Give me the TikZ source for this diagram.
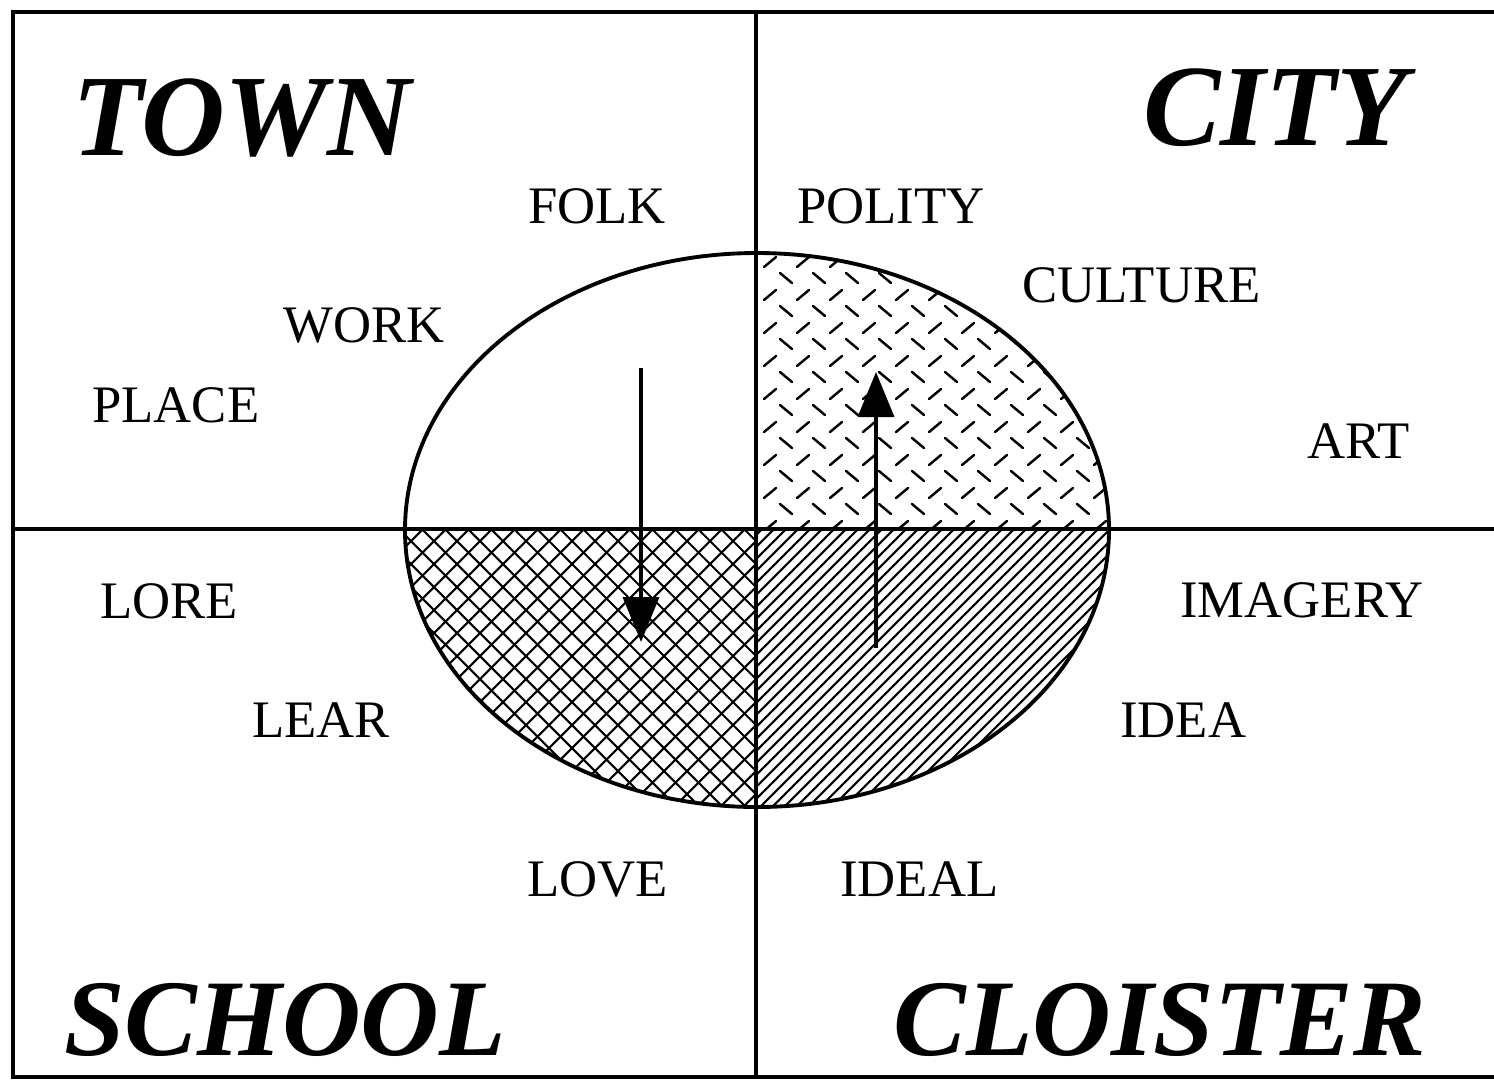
\documentclass[tikz,border=0pt]{standalone}
\usepackage{fontspec}
\setmainfont{Liberation Serif}
\usetikzlibrary{arrows.meta}
\tikzset{
  frameline/.style={line width=2.2pt, line cap=rect},
  hatchline/.style={line width=1.2pt},
  marks/.style={line width=1.4pt, line cap=round},
  bigtitle/.style={anchor=base west, inner sep=0pt, font=\fontsize{66}{70}\selectfont\bfseries\itshape},
  lowtitle/.style={bigtitle, font=\fontsize{62}{66}\selectfont\bfseries\itshape},
  smalllabel/.style={anchor=base west, inner sep=0pt, font=\fontsize{30}{33}\selectfont},
  upshaft/.style={line width=2pt, -{Triangle[width=0.72cm,length=0.9cm]}},
}
\begin{document}
\begin{tikzpicture}[x=0.02cm,y=-0.02cm]
\useasboundingbox (0,0) rectangle (1494,1080);
\fill[white] (0,0) rectangle (1494,1080);

% ---- hatched quadrants of the ellipse ----
% top-right: dashed diagonal marks
\begin{scope}
  \clip (757,530) ellipse [x radius=352, y radius=277];
  \clip (757,240) rectangle (1120,529);
  \foreach \i in {0,...,11}{
    \foreach \j in {0,...,9}{
      \draw[marks] (770+33*\i-6,262+33*\j+5) -- (770+33*\i+6,262+33*\j-5);
      \draw[marks] (786+33*\i-6,278+33*\j-5) -- (786+33*\i+6,278+33*\j+5);
    }
  }
\end{scope}
% bottom-left: cross hatching
\begin{scope}
  \clip (757,530) ellipse [x radius=352, y radius=277];
  \clip (395,529) rectangle (757,820);
  \foreach \k in {0,...,50}{
    \draw[hatchline] (100+23*\k,529) -- ++(300,300);
    \draw[hatchline] (400+23*\k,529) -- ++(-300,300);
  }
\end{scope}
% bottom-right: single diagonal hatching
\begin{scope}
  \clip (757,530) ellipse [x radius=352, y radius=277];
  \clip (757,529) rectangle (1120,820);
  \foreach \k in {0,...,70}{
    \draw[hatchline] (450+12*\k,829) -- ++(300,-300);
  }
\end{scope}

% ---- ellipse ----
\draw[line width=2.2pt] (757,530) ellipse [x radius=352, y radius=277];

% ---- frame and axes ----
\coordinate (tl) at (13,12);
\coordinate (tr) at (1494,12);
\coordinate (bl) at (13,1077);
\coordinate (br) at (1494,1077);
\coordinate (vt) at (756,12);
\coordinate (vb) at (756,1077);
\coordinate (hl) at (13,529);
\coordinate (hr) at (1494,529);
\draw[frameline] (tr) -- (tl) -- (bl) -- (br);
\draw[frameline] (vt) -- (vb);
\draw[frameline] (hl) -- (hr);

% ---- arrows ----
\coordinate (la) at (641,368);
\coordinate (lb) at (641,642);
\coordinate (ra) at (876,648);
\coordinate (rb) at (876,372);
\draw[upshaft] (la) -- (lb);
\draw[upshaft] (ra) -- (rb);

% ---- titles ----
\node[bigtitle] (town) at (72,155) {TOWN};
\node[bigtitle] (city) at (1143,145) {CITY};
\node[lowtitle] (school) at (64,1055) {SCHOOL};
\node[lowtitle] (cloister) at (893,1055) {CLOISTER};

% ---- labels ----
\node[smalllabel] (folk) at (528,223) {FOLK};
\node[smalllabel] (polity) at (797,223) {POLITY};
\node[smalllabel] (culture) at (1022,302) {CULTURE};
\node[smalllabel] (work) at (283,342) {WORK};
\node[smalllabel] (place) at (92,422) {PLACE};
\node[smalllabel] (art) at (1307,458) {ART};
\node[smalllabel] (lore) at (100,618) {LORE};
\node[smalllabel] (imagery) at (1180,617) {IMAGERY};
\node[smalllabel] (lear) at (252,737) {LEAR};
\node[smalllabel] (idea) at (1120,737) {IDEA};
\node[smalllabel] (love) at (527,896) {LOVE};
\node[smalllabel] (ideal) at (840,896) {IDEAL};
\end{tikzpicture}
\end{document}
